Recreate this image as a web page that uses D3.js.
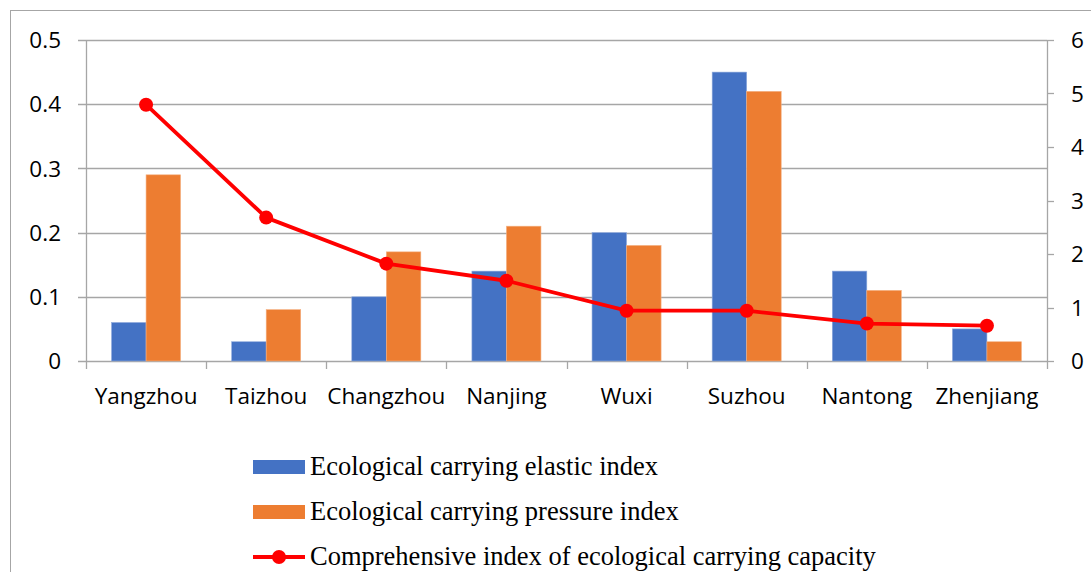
<!DOCTYPE html>
<html>
<head>
<meta charset="utf-8">
<script src="https://cdn.jsdelivr.net/npm/d3@7"></script>
<style>
  body { margin: 0; background: #fff; }
  svg { display: block; }
</style>
</head>
<body>
<svg id="chart" width="1091" height="572"></svg>
<script>
// data
const cities = ["Yangzhou", "Taizhou", "Changzhou", "Nanjing", "Wuxi", "Suzhou", "Nantong", "Zhenjiang"];
const elastic = [0.06, 0.03, 0.10, 0.14, 0.20, 0.45, 0.14, 0.05];
const pressure = [0.29, 0.08, 0.17, 0.21, 0.18, 0.42, 0.11, 0.03];
const comprehensive = [4.79, 2.68, 1.82, 1.50, 0.94, 0.94, 0.70, 0.66];
const leftTicks = [0, 0.1, 0.2, 0.3, 0.4, 0.5];
const rightTicks = [0, 1, 2, 3, 4, 5, 6];
const seriesNames = ["Ecological carrying elastic index", "Ecological carrying pressure index", "Comprehensive index of ecological carrying capacity"];

const blue = "#4472C4", orange = "#ED7D31", red = "#FF0000", grid = "#a6a6a6";
const tickFont = "'Open Sans', Calibri, sans-serif";
const tickSize = 22.5;

var svg = d3.select("#chart");

// outer frame of the chart area
svg.append("rect")
    .attr("x", 10.5).attr("y", 10.5)
    .attr("width", 1100).attr("height", 600)
    .attr("fill", "none").attr("stroke", grid).attr("stroke-width", 1);

const plotLeft = 86, plotRight = 1047, plotTop = 40, plotBottom = 361;

const x = d3.scaleBand().domain(cities).range([plotLeft, plotRight]).paddingInner(0).paddingOuter(0);
const inner = d3.scaleBand().domain([0, 1]).range([0, x.bandwidth()]).paddingInner(0).paddingOuter(0.74);
const yL = d3.scaleLinear().domain([0, 0.5]).range([plotBottom, plotTop]);
const yR = d3.scaleLinear().domain([0, 6]).range([plotBottom, plotTop]);

// gridlines (with small ticks left of the axis)
svg.append("g").selectAll("line")
    .data(leftTicks)
    .enter().append("line")
    .attr("x1", plotLeft - 8).attr("x2", plotRight)
    .attr("y1", d => Math.round(yL(d)) + 0.5).attr("y2", d => Math.round(yL(d)) + 0.5)
    .attr("stroke", grid).attr("stroke-width", 1.3);

// right ticks (small marks outside)
svg.append("g").selectAll("line")
    .data(rightTicks)
    .enter().append("line")
    .attr("x1", plotRight).attr("x2", plotRight + 7)
    .attr("y1", d => Math.round(yR(d)) + 0.5).attr("y2", d => Math.round(yR(d)) + 0.5)
    .attr("stroke", grid).attr("stroke-width", 1.3);

// vertical axes
svg.append("line").attr("x1", plotLeft + 0.5).attr("x2", plotLeft + 0.5).attr("y1", plotTop).attr("y2", plotBottom + 8)
    .attr("stroke", grid).attr("stroke-width", 1.3);
svg.append("line").attr("x1", plotRight + 0.5).attr("x2", plotRight + 0.5).attr("y1", plotTop).attr("y2", plotBottom + 8)
    .attr("stroke", grid).attr("stroke-width", 1.3);

// category tick marks
svg.append("g").selectAll("line")
    .data(cities.slice(1))
    .enter().append("line")
    .attr("x1", d => Math.round(x(d)) + 0.5).attr("x2", d => Math.round(x(d)) + 0.5)
    .attr("y1", plotBottom).attr("y2", plotBottom + 8)
    .attr("stroke", grid).attr("stroke-width", 1.3);

// bars
const groups = svg.append("g").selectAll("g")
    .data(cities)
    .enter().append("g")
    .attr("transform", d => `translate(${x(d)},0)`);

groups.append("rect")
    .attr("x", inner(0)).attr("width", inner.bandwidth())
    .attr("y", (d, i) => yL(elastic[i])).attr("height", (d, i) => plotBottom - yL(elastic[i]))
    .attr("fill", blue).attr("stroke", "#8faadc").attr("stroke-width", 0.6);

groups.append("rect")
    .attr("x", inner(1)).attr("width", inner.bandwidth())
    .attr("y", (d, i) => yL(pressure[i])).attr("height", (d, i) => plotBottom - yL(pressure[i]))
    .attr("fill", orange).attr("stroke", "#f4b183").attr("stroke-width", 0.6);

// line on right axis
const cx = d => x(d) + x.bandwidth() / 2;
svg.append("path")
    .datum(cities)
    .attr("fill", "none").attr("stroke", red).attr("stroke-width", 3.8)
    .attr("stroke-linejoin", "round")
    .attr("d", d3.line().x(cx).y((d, i) => yR(comprehensive[i])));

svg.append("g").selectAll("circle")
    .data(cities)
    .enter().append("circle")
    .attr("cx", cx).attr("cy", (d, i) => yR(comprehensive[i]))
    .attr("r", 7).attr("fill", red);

// tick labels
svg.append("g").selectAll("text")
    .data(leftTicks)
    .enter().append("text")
    .attr("x", 61).attr("y", d => yL(d)).attr("dy", "0.36em")
    .attr("text-anchor", "end")
    .attr("font-family", tickFont).attr("font-size", tickSize).attr("fill", "#000")
    .text(d => d);

svg.append("g").selectAll("text")
    .data(rightTicks)
    .enter().append("text")
    .attr("x", 1071).attr("y", d => yR(d)).attr("dy", "0.36em")
    .attr("text-anchor", "start")
    .attr("font-family", tickFont).attr("font-size", tickSize).attr("fill", "#000")
    .text(d => d);

svg.append("g").selectAll("text")
    .data(cities)
    .enter().append("text")
    .attr("x", cx).attr("y", 404)
    .attr("text-anchor", "middle")
    .attr("font-family", tickFont).attr("font-size", tickSize).attr("fill", "#000")
    .text(d => d);

// legend
const legend = svg.append("g").attr("transform", "translate(253,0)");
const rows = [467, 512, 557];
legend.append("rect").attr("x", 0).attr("y", rows[0] - 7).attr("width", 52).attr("height", 14).attr("fill", blue);
legend.append("rect").attr("x", 0).attr("y", rows[1] - 7).attr("width", 52).attr("height", 14).attr("fill", orange);
legend.append("line").attr("x1", 0).attr("x2", 52).attr("y1", rows[2]).attr("y2", rows[2])
    .attr("stroke", red).attr("stroke-width", 3.8);
legend.append("circle").attr("cx", 26).attr("cy", rows[2]).attr("r", 7).attr("fill", red);

legend.selectAll("text")
    .data(seriesNames)
    .enter().append("text")
    .attr("x", 57).attr("y", (d, i) => rows[i] + 8)
    .attr("font-family", "'Liberation Serif', 'Times New Roman', serif")
    .attr("font-size", 26.5).attr("fill", "#000")
    .text(d => d);
</script>
</body>
</html>
